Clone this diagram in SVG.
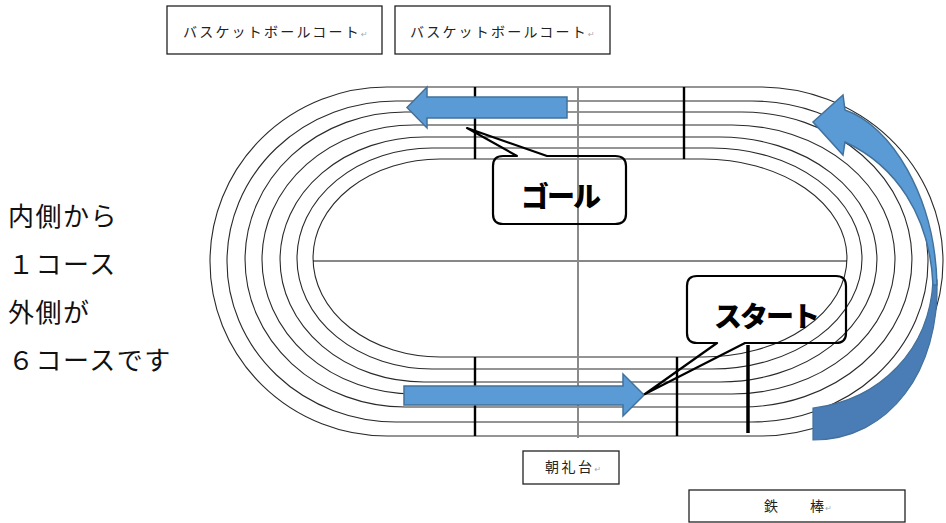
<svg xmlns="http://www.w3.org/2000/svg" width="946" height="523" viewBox="0 0 946 523">
<style>
.lane{fill:none;stroke:#2a2a2a;stroke-width:1.1}
.vl{stroke:#000;stroke-width:2.4}
.box{fill:#fff;stroke:#222;stroke-width:1.3}
.lbl{font-family:"Noto Sans CJK JP",sans-serif;font-size:14px;fill:#222}
.pm{font-family:"DejaVu Sans",sans-serif;font-size:8px;fill:#aaa}
.call{fill:none;stroke:#000;stroke-width:2.2;stroke-linejoin:round}
.ct{font-family:"Noto Sans CJK JP",sans-serif;font-weight:900;font-size:28px;fill:#000}
.side{font-family:"Noto Sans CJK JP",sans-serif;font-size:26px;fill:#111;letter-spacing:1.5px}
.arr{fill:#5B9BD5;stroke:#41719C;stroke-width:1.5}
.arrd{fill:#4A7DB5;stroke:#41719C;stroke-width:1.2}
</style>
<rect width="946" height="523" fill="#fff"/>
<g id="track">
<path class="lane" d="M 440 159 H 703 A 144 99 0 0 1 703 357 H 440 A 127 99 0 0 1 440 159 Z"/>
<path class="lane" d="M 432 148 H 712 A 150 110.5 0 0 1 712 369 H 432 A 135 110.5 0 0 1 432 148 Z"/>
<path class="lane" d="M 424 137 H 720 A 157 122.5 0 0 1 720 382 H 424 A 144 122.5 0 0 1 424 137 Z"/>
<path class="lane" d="M 414 125 H 732 A 163 134.5 0 0 1 732 394 H 414 A 152 134.5 0 0 1 414 125 Z"/>
<path class="lane" d="M 405 112 H 742 A 170 147.5 0 0 1 742 407 H 405 A 160 147.5 0 0 1 405 112 Z"/>
<path class="lane" d="M 396 101 H 752 A 176 160.5 0 0 1 752 422 H 396 A 169 160.5 0 0 1 396 101 Z"/>
<path class="lane" d="M 387 87 H 760 A 183 174.5 0 0 1 760 436 H 387 A 177 174.5 0 0 1 387 87 Z"/>
<line x1="313" y1="261" x2="847" y2="261" stroke="#111" stroke-width="1"/>
<line class="vl" x1="475" y1="87" x2="475" y2="159"/>
<line class="vl" x1="684" y1="87" x2="684" y2="159"/>
<line class="vl" x1="475" y1="357" x2="475" y2="436"/>
<line class="vl" x1="677" y1="357" x2="677" y2="436"/>
<line x1="748" y1="345" x2="748" y2="433" stroke="#000" stroke-width="3.5"/>
<line x1="578" y1="87" x2="578" y2="438" stroke="#8a8a8a" stroke-width="2"/>
</g>
<g id="basket1">
<rect class="box" x="167" y="6" width="215" height="48"/>
<text class="lbl" x="183" y="36.5" letter-spacing="2.2">バスケットボールコート<tspan class="pm">↵</tspan></text>
</g>
<g id="basket2">
<rect class="box" x="395" y="6" width="215" height="48"/>
<text class="lbl" x="410" y="36.5" letter-spacing="2.2">バスケットボールコート<tspan class="pm">↵</tspan></text>
</g>
<g id="chorei">
<rect class="box" x="523" y="451" width="96" height="33"/>
<text class="lbl" x="545" y="472" letter-spacing="2.5">朝礼台<tspan class="pm">↵</tspan></text>
</g>
<g id="tetsubo">
<rect class="box" x="689" y="490" width="216" height="32"/>
<text class="lbl" x="764" y="511" letter-spacing="1.3">鉄　　棒<tspan class="pm">↵</tspan></text>
</g>
<g id="side-note">
<text class="side" x="8" y="226">内側から</text>
<text class="side" x="8" y="274">１コース</text>
<text class="side" x="8" y="322">外側が</text>
<text class="side" x="8" y="370">６コースです</text>
</g>
<g id="connectors">
<path class="arr" d="M 567 97 L 427 97 L 427 87 L 407 107.5 L 427 128 L 427 118 L 567 118 Z"/>
<path class="arr" d="M 404 386 L 623 386 L 623 374 L 644 395 L 623 416 L 623 405 L 404 405 Z"/>
<path class="arrd" d="M 937 280 C 940 370 890 440 813 440 L 813 408 C 880 400 930 350 933 280 Z"/>
<path class="arr" d="M 813 122 L 843 95 L 845 110 C 890 125 935 195 937 285 L 933 285 C 930 215 895 165 845 142 L 843 155 Z"/>
</g>
<g id="goal">
<path class="call" d="M 503 156 L 517 156 L 467 128 L 547 156 L 615 156 Q 626 156 626 166 L 626 214 Q 626 224 615 224 L 503 224 Q 493 224 493 214 L 493 166 Q 493 156 503 156 Z"/>
<text class="ct" x="560" y="207" text-anchor="middle" letter-spacing="-2">ゴール</text>
</g>
<g id="start">
<path class="call" d="M 697 276 L 836 276 Q 846 276 846 286 L 846 333 Q 846 343 836 343 L 745 343 L 645 394 L 717 343 L 697 343 Q 687 343 687 333 L 687 286 Q 687 276 697 276 Z"/>
<text class="ct" x="766" y="327" text-anchor="middle" letter-spacing="-2">スタート</text>
</g>
</svg>
